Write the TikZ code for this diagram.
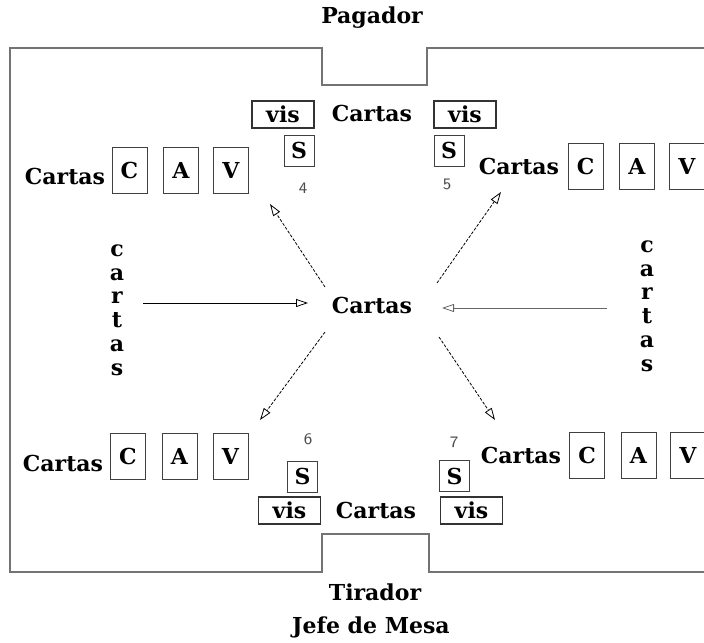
\documentclass[tikz,border=0pt]{standalone}
\usepackage{fontspec}
\setmainfont{DejaVu Serif}
\usetikzlibrary{arrows.meta}

\tikzset{
  lbl/.style={font=\fontsize{11}{11.9}\selectfont\bfseries, inner sep=0pt},
  card/.style={lbl, draw=black!75, line width=0.5pt, minimum width=17.5pt, minimum height=23pt},
  sbox/.style={lbl, draw=black!75, line width=0.5pt, minimum width=15pt, minimum height=15.5pt},
  visbox/.style={lbl, draw=black!80, line width=0.6pt, minimum width=31pt, minimum height=13.5pt},
  num/.style={font=\fontsize{8}{8}\sffamily, text=black!70, inner sep=0pt},
  tri/.style={-{Triangle[open,length=6pt,width=4pt]}, line width=0.4pt},
  fine/.style={dash pattern=on 1.5pt off 0.8pt},
  outline/.style={draw=black!55, line width=0.7pt},
}

\begin{document}
\begin{tikzpicture}[x=0.5pt, y=-0.5pt]
      \useasboundingbox (0,0) rectangle (704,642);

      % mesa
      \draw[outline] (704,48) -- (427,48) -- (427,85) -- (322,85) -- (322,48) -- (10,48)
        -- (10,572) -- (322,572) -- (322,534) -- (429,534) -- (429,572) -- (704,572);

      \node[lbl] (pagador) at (372,18) {Pagador};
      \node[lbl] (tirador) at (375,592) {Tirador};
      \node[lbl] (jefe) at (371,627) {Jefe de Mesa};

      % centro
      \node[lbl] (mid) at (372,305) {Cartas};
      \node[lbl] (topc) at (372,113) {Cartas};
      \node[lbl] (botc) at (376,510) {Cartas};

      % jugador 4
      \node[lbl] (p4) at (65,176) {Cartas};
      \node[card] (c4) at (129.5,170) {C};
      \node[card] (a4) at (181,170) {A};
      \node[card] (v4) at (231,170) {V};
      \node[visbox] (vis4) at (283,114.5) {vis};
      \node[sbox] (s4) at (299,150.5) {S};
      \node[num] (n4) at (303,188) {4};

      % jugador 5
      \node[lbl] (p5) at (519,166) {Cartas};
      \node[card] (c5) at (585.5,166) {C};
      \node[card] (a5) at (637,166) {A};
      \node[card] (v5) at (687,166) {V};
      \node[visbox] (vis5) at (465,114.5) {vis};
      \node[sbox] (s5) at (449,150.5) {S};
      \node[num] (n5) at (447,184) {5};

      % jugador 6
      \node[lbl] (p6) at (63,463) {Cartas};
      \node[card] (c6) at (128,456) {C};
      \node[card] (a6) at (179.5,456) {A};
      \node[card] (v6) at (230.5,456) {V};
      \node[visbox] (vis6) at (289.5,510.5) {vis};
      \node[sbox] (s6) at (302.5,476.5) {S};
      \node[num] (n6) at (308,439) {6};

      % jugador 7
      \node[lbl] (p7) at (521,455) {Cartas};
      \node[card] (c7) at (587,455.5) {C};
      \node[card] (a7) at (638.5,455.5) {A};
      \node[card] (v7) at (688,455.5) {V};
      \node[visbox] (vis7) at (471.5,510.5) {vis};
      \node[sbox] (s7) at (454.5,476) {S};
      \node[num] (n7) at (454,442) {7};

      % mazos laterales
      \node[lbl, align=center] (left) at (117,310) {c\\a\\r\\t\\a\\s};
      \node[lbl, align=center] (right) at (647,306) {c\\a\\r\\t\\a\\s};

      \coordinate (l0) at (143,303);
      \coordinate (l1) at (308,303);
      \coordinate (r0) at (607,308);
      \coordinate (r1) at (442,308);
      \draw[tri] (l0) -- (l1);
      \draw[tri, draw=black!60] (r0) -- (r1);

      % reparto
      \coordinate (ul0) at (325,287);
      \coordinate (ul1) at (270,204);
      \coordinate (ur0) at (437,283);
      \coordinate (ur1) at (501,192);
      \coordinate (dl0) at (325,332);
      \coordinate (dl1) at (260,420);
      \coordinate (dr0) at (439,337);
      \coordinate (dr1) at (495,420);
      \draw[tri, fine] (ul0) -- (ul1);
      \draw[tri, fine] (ur0) -- (ur1);
      \draw[tri, fine] (dl0) -- (dl1);
      \draw[tri, fine] (dr0) -- (dr1);
    \end{tikzpicture}
\end{document}
